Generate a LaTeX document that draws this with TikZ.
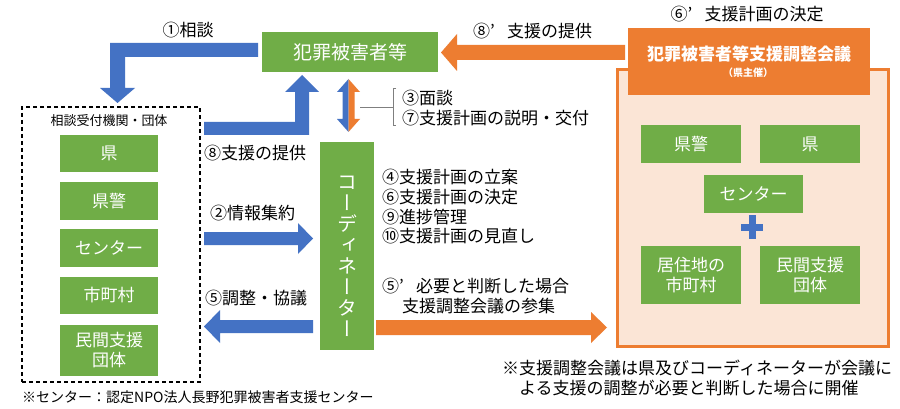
\documentclass[tikz,border=0pt]{standalone}
\usepackage{fontspec}
\setmainfont{Noto Sans CJK JP}
\newfontfamily\vcjk[RawFeature=+vert]{Noto Sans CJK JP}
\usetikzlibrary{calc}
\definecolor{cgreen}{HTML}{70AD47}
\definecolor{cblue}{HTML}{4472C4}
\definecolor{corange}{HTML}{ED7D31}
\definecolor{cpeach}{HTML}{FBE5D6}
\definecolor{cgray}{HTML}{7F7F7F}
\newcommand\fwq{\makebox[1em][l]{’}}
\tikzset{
  gbox/.style={fill=cgreen, text=white, inner sep=0pt, align=center,
    font=\fontsize{17}{20}\selectfont},
  lbl/.style={inner sep=0pt, anchor=west, font=\fontsize{17}{20}\selectfont},
  barrow/.style={fill=cblue, draw=none},
  oarrow/.style={fill=corange, draw=none},
}
\begin{document}
\begin{tikzpicture}[x=1pt,y=-1pt]
\useasboundingbox (0,0) rectangle (900,409);
\fill[white] (0,0) rectangle (900,409);

% council area
\node[fill=cpeach, draw=corange, line width=3pt, minimum width=271pt, minimum height=276pt, inner sep=0pt] (council) at (752.5,208) {};
\node[fill=corange, minimum width=242pt, minimum height=67pt, inner sep=0pt] (councilhead) at (749,61.5) {};
\node[text=white, inner sep=0pt, font=\fontsize{17}{20}\selectfont\bfseries] (headtitle) at (749,54) {犯罪被害者等支援調整会議};
\node[text=white, inner sep=0pt, font=\fontsize{10}{12}\selectfont\bfseries] (headsub) at (748,73) {（県主催）};
\node[inner sep=0pt, font=\fontsize{17}{20}\selectfont] (decide) at (747,14) {⑥\fwq 支援計画の決定};

\node[gbox, minimum width=100pt, minimum height=38pt] (rpolice) at (691,144) {県警};
\node[gbox, minimum width=100pt, minimum height=38pt] (rpref) at (810,144) {県};
\node[gbox, minimum width=99pt, minimum height=38pt] (rcenter) at (753.5,194) {センター};
\node[gbox, minimum width=100pt, minimum height=58pt] (rcity) at (691,275) {居住地の\\市町村};
\node[gbox, minimum width=100pt, minimum height=58pt] (rngo) at (810,275) {民間支援\\団体};
\fill[cblue] (741,224) rectangle (763,231);
\fill[cblue] (748.5,215) rectangle (755.5,239);

% victim
\node[gbox, minimum width=176pt, minimum height=40pt, font=\fontsize{19}{22}\selectfont] (victim) at (350,52) {犯罪被害者等};

% left group
\node[draw, dashed, line width=1.1pt, dash pattern=on 4pt off 3pt, minimum width=178pt, minimum height=275pt, inner sep=0pt] (group) at (111,244.5) {};
\node[inner sep=0pt, font=\fontsize{13}{15}\selectfont] (grouplbl) at (109,121) {相談受付機関・団体};
\node[gbox, minimum width=98pt, minimum height=37pt] (lpref) at (109,153.5) {県};
\node[gbox, minimum width=98pt, minimum height=38pt] (lpolice) at (109,201) {県警};
\node[gbox, minimum width=98pt, minimum height=38pt] (lcenter) at (109,248) {センター};
\node[gbox, minimum width=98pt, minimum height=37pt] (lcity) at (109,295.5) {市町村};
\node[gbox, minimum width=98pt, minimum height=51pt] (lngo) at (109,350.5) {民間支援\\団体};

% coordinator
\node[fill=cgreen, minimum width=54pt, minimum height=207pt, inner sep=0pt] (coord) at (346.5,246) {};
\node[text=white, inner sep=0pt, align=center, font=\vcjk\fontsize{20}{21}\selectfont] (coordtext) at (347,256) {コ\\ー\\デ\\ィ\\ネ\\ー\\タ\\ー};

% arrows
\fill[barrow] (258,43) -- (110,43) -- (110,88) -- (100,88) -- (117.5,103) -- (135,88) -- (125,88) -- (125,57) -- (258,57) -- cycle;
\fill[barrow] (204,122) -- (295,122) -- (295,92) -- (285,92) -- (302,75) -- (319,92) -- (309,92) -- (309,135) -- (204,135) -- cycle;
\fill[barrow] (348.5,79) -- (337,92) -- (342.5,92) -- (342.5,119) -- (337,119) -- (348.5,132) -- cycle;
\fill[oarrow] (348.5,79) -- (360,92) -- (354.5,92) -- (354.5,119) -- (360,119) -- (348.5,132) -- cycle;
\draw[cgray, line width=0.7pt] (360,107) -- (393,107);
\draw[cgray, line width=0.7pt] (396,88) -- (393,88) -- (393,125) -- (396,125);
\fill[barrow] (204,232) -- (298,232) -- (298,223) -- (313,238.5) -- (298,254) -- (298,245) -- (204,245) -- cycle;
\fill[barrow] (313,320) -- (220,320) -- (220,310) -- (204,326.5) -- (220,343) -- (220,333) -- (313,333) -- cycle;
\fill[oarrow] (376,320) -- (591,320) -- (591,312) -- (607,327.5) -- (591,343) -- (591,335) -- (376,335) -- cycle;
\fill[oarrow] (625,45) -- (457,45) -- (457,34) -- (441,52.5) -- (457,71) -- (457,60) -- (625,60) -- cycle;

% labels
\node[inner sep=0pt, font=\fontsize{17}{20}\selectfont] (l1) at (188,30) {①相談};
\node[lbl] (l8) at (204,153) {⑧支援の提供};
\node[lbl] (l2) at (210,213) {②情報集約};
\node[lbl] (l5) at (205,298) {⑤調整・協議};
\node[lbl] (l3) at (402,98) {③面談};
\node[lbl] (l7) at (402,118) {⑦支援計画の説明・交付};
\node[lbl] (l4) at (382,177) {④支援計画の立案};
\node[lbl] (l6) at (382,197) {⑥支援計画の決定};
\node[lbl] (l9) at (382,217) {⑨進捗管理};
\node[lbl] (l10) at (382,236) {⑩支援計画の見直し};
\node[lbl] (l5a) at (382,286) {⑤\fwq 必要と判断した場合};
\node[lbl] (l5b) at (402,306) {支援調整会議の参集};
\node[lbl] (l8a) at (473,31) {⑧\fwq 支援の提供};
\node[lbl] (noter1) at (502,368) {※支援調整会議は県及びコーディネーターが会議に};
\node[lbl] (noter2) at (519,388) {よる支援の調整が必要と判断した場合に開催};
\node[lbl, font=\fontsize{14}{16}\selectfont] (notel) at (22,397) {※センター：認定NPO法人長野犯罪被害者支援センター};
\end{tikzpicture}
\end{document}
